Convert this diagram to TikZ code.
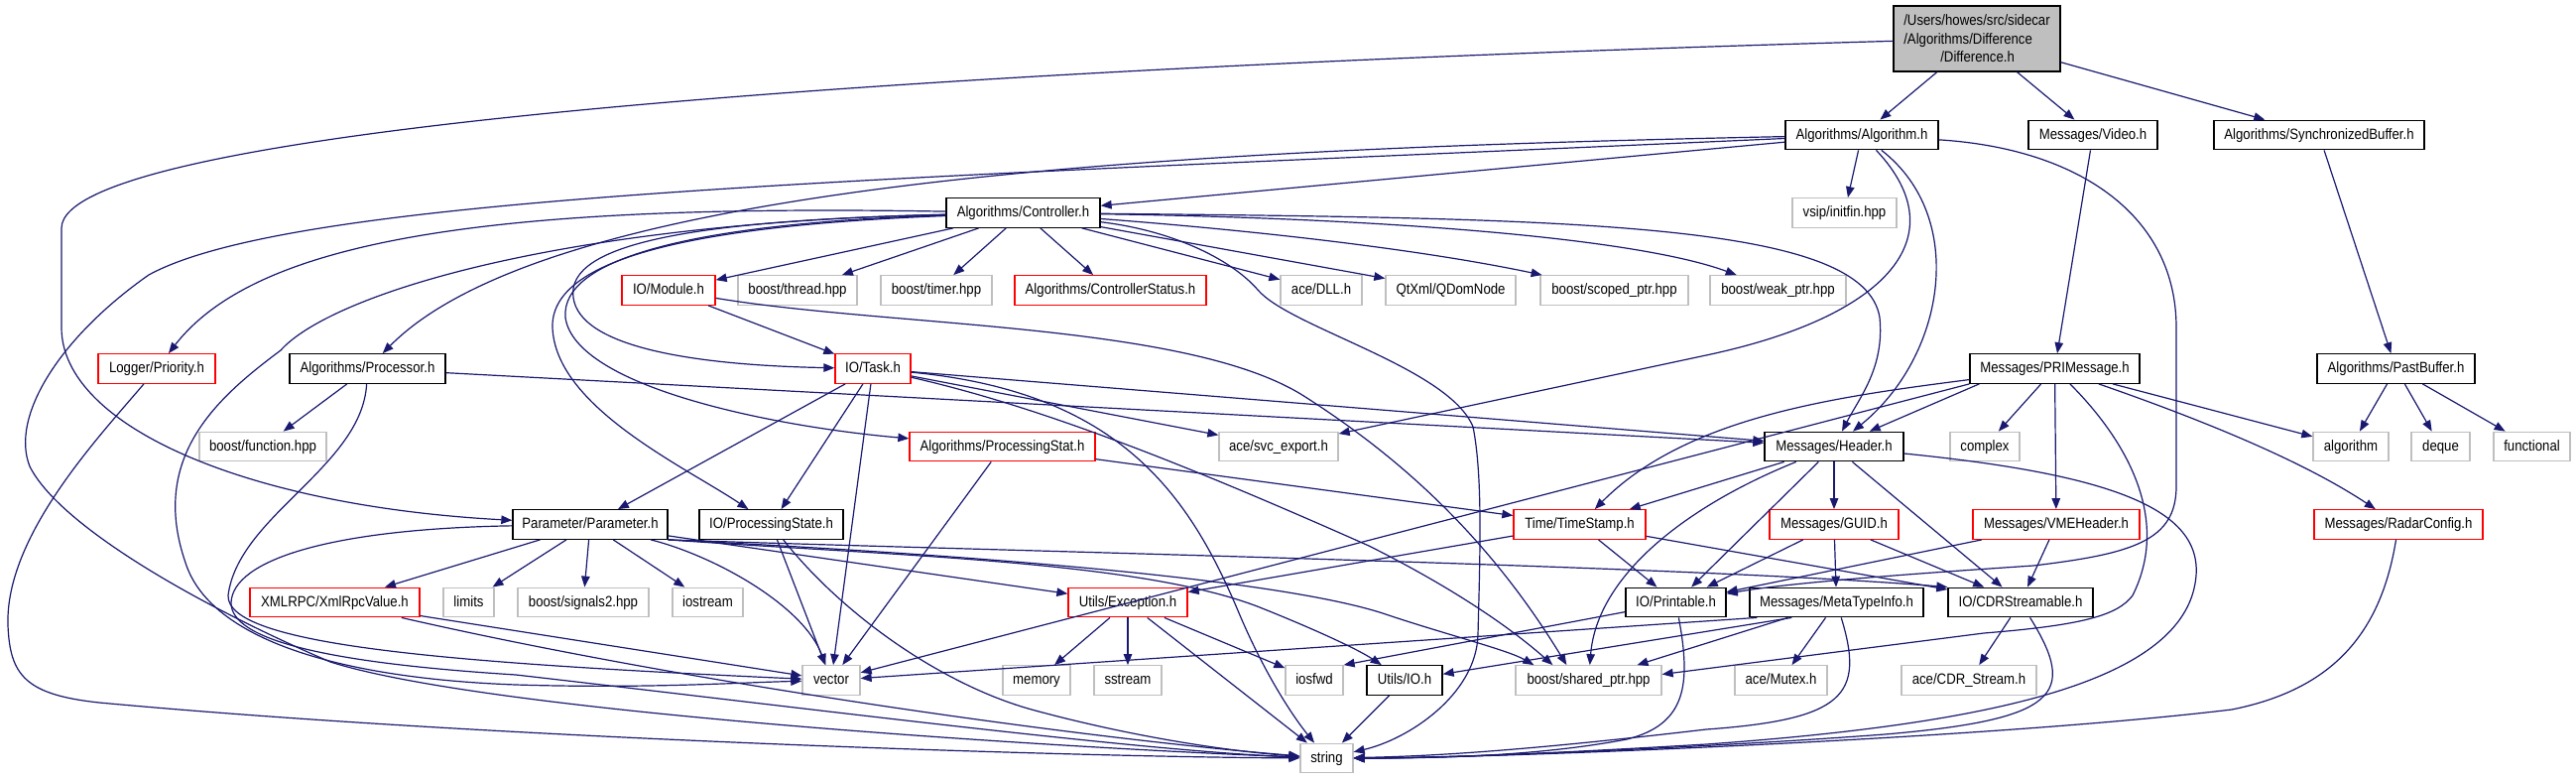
\documentclass[tikz,border=0pt]{standalone}
\usepackage{fontspec}
\newfontfamily\dox[FakeStretch=0.88]{Liberation Sans}
\usetikzlibrary{arrows.meta}
\definecolor{edgec}{HTML}{191970}
\definecolor{gbord}{HTML}{BFBFBF}
\definecolor{mainfill}{HTML}{BFBFBF}
\tikzset{
  nbox/.style={rectangle, inner sep=0pt, minimum height=29.5pt, fill=white, line width=1.3pt, font=\dox\fontsize{15}{18.5}\selectfont},
  blk/.style={nbox, draw=black, text height=11pt, text depth=3pt},
  redb/.style={nbox, draw=red, text height=11pt, text depth=3pt},
  gry/.style={nbox, draw=gbord, text height=11pt, text depth=3pt},
  ed/.style={draw=edgec, line width=1.2pt, -{Triangle[length=11pt,width=8.5pt]}},
}
\begin{document}
\begin{tikzpicture}[x=1pt,y=-1pt]
\useasboundingbox (0,0) rectangle (2597,785);
\fill[white] (0,0) rectangle (2597,785);
% nodes
\node[nbox, draw=black, fill=mainfill, minimum width=168pt, minimum height=66pt, align=left] (main) at (1993,39) {/Users/howes/src/sidecar\\/Algorithms/Difference\\\hspace*{37pt}/Difference.h};
\node[blk, minimum width=154pt] (alg) at (1877,136) {Algorithms/Algorithm.h};
\node[blk, minimum width=130pt] (video) at (2110,136) {Messages/Video.h};
\node[blk, minimum width=212pt] (sync) at (2338,136) {Algorithms/SynchronizedBuffer.h};
\node[blk, minimum width=155pt] (ctl) at (1031.5,214.5) {Algorithms/Controller.h};
\node[gry, minimum width=105pt] (initfin) at (1859.5,214.5) {vsip/initfin.hpp};
\node[redb, minimum width=94pt] (module) at (674,292.5) {IO/Module.h};
\node[gry, minimum width=120pt] (thread) at (804,292.5) {boost/thread.hpp};
\node[gry, minimum width=112pt] (timer) at (944,292.5) {boost/timer.hpp};
\node[redb, minimum width=193pt] (ctlstat) at (1119.5,292.5) {Algorithms/ControllerStatus.h};
\node[gry, minimum width=82pt] (dll) at (1332,292.5) {ace/DLL.h};
\node[gry, minimum width=131pt] (qdom) at (1462.5,292.5) {QtXml/QDomNode};
\node[gry, minimum width=149pt] (scoped) at (1627.5,292.5) {boost/scoped\_ptr.hpp};
\node[gry, minimum width=137pt] (weak) at (1792.5,292.5) {boost/weak\_ptr.hpp};
\node[redb, minimum width=118pt] (logger) at (158,371.5) {Logger/Priority.h};
\node[blk, minimum width=157pt] (proc) at (370.5,371.5) {Algorithms/Processor.h};
\node[redb, minimum width=76pt] (task) at (880,371.5) {IO/Task.h};
\node[blk, minimum width=171pt] (prim) at (2071.5,371.5) {Messages/PRIMessage.h};
\node[blk, minimum width=159pt] (past) at (2415.5,371.5) {Algorithms/PastBuffer.h};
\node[gry, minimum width=128pt] (func) at (265,450) {boost/function.hpp};
\node[redb, minimum width=187pt] (pstat) at (1010.5,450) {Algorithms/ProcessingStat.h};
\node[gry, minimum width=120pt] (svc) at (1289,450) {ace/svc\_export.h};
\node[blk, minimum width=140pt] (hdr) at (1849,450) {Messages/Header.h};
\node[gry, minimum width=70pt] (complex) at (2001,450) {complex};
\node[gry, minimum width=76pt] (algo) at (2370,450) {algorithm};
\node[gry, minimum width=59pt] (deque) at (2460.5,450) {deque};
\node[gry, minimum width=77pt] (functional) at (2552.5,450) {functional};
\node[blk, minimum width=156pt] (param) at (595,528.5) {Parameter/Parameter.h};
\node[blk, minimum width=145pt] (pstate) at (777.5,528.5) {IO/ProcessingState.h};
\node[redb, minimum width=133pt] (tstamp) at (1592.5,528.5) {Time/TimeStamp.h};
\node[redb, minimum width=130pt] (guid) at (1849,528.5) {Messages/GUID.h};
\node[redb, minimum width=168pt] (vme) at (2073,528.5) {Messages/VMEHeader.h};
\node[redb, minimum width=170pt] (radar) at (2418,528.5) {Messages/RadarConfig.h};
\node[redb, minimum width=171pt] (xml) at (337.5,607) {XMLRPC/XmlRpcValue.h};
\node[gry, minimum width=51pt] (limits) at (472.5,607) {limits};
\node[gry, minimum width=132pt] (sig) at (588,607) {boost/signals2.hpp};
\node[gry, minimum width=71pt] (iostream) at (713.5,607) {iostream};
\node[redb, minimum width=120pt] (exc) at (1137,607) {Utils/Exception.h};
\node[blk, minimum width=101pt] (printable) at (1689.5,607) {IO/Printable.h};
\node[blk, minimum width=175pt] (meta) at (1851.5,607) {Messages/MetaTypeInfo.h};
\node[blk, minimum width=146pt] (cdrs) at (2037,607) {IO/CDRStreamable.h};
\node[gry, minimum width=58pt] (vector) at (838,685.5) {vector};
\node[gry, minimum width=68pt] (memory) at (1045,685.5) {memory};
\node[gry, minimum width=68pt] (sstream) at (1137,685.5) {sstream};
\node[gry, minimum width=58pt] (iosfwd) at (1325,685.5) {iosfwd};
\node[blk, minimum width=76pt] (uio) at (1416,685.5) {Utils/IO.h};
\node[gry, minimum width=147pt] (shared) at (1601.5,685.5) {boost/shared\_ptr.hpp};
\node[gry, minimum width=93pt] (mutex) at (1795.5,685.5) {ace/Mutex.h};
\node[gry, minimum width=136pt] (cdrstream) at (1985,685.5) {ace/CDR\_Stream.h};
\node[gry, minimum width=53pt] (string) at (1337.5,764) {string};
% edges: main
\draw[ed] (main) -- (alg);
\draw[ed] (main) -- (video);
\draw[ed] (main) -- (sync);
\draw[ed] (main) .. controls (900,70) and (62,130) .. (62,230) -- (62,330) .. controls (62,430) and (250,510) .. (param);
% Algorithm.h
\draw[ed] (alg) -- (ctl);
\draw[ed] (alg) -- (initfin);
\draw[ed] (alg) .. controls (1200,150) and (560,180) .. (proc);
\draw[ed] (alg) .. controls (900,180) and (300,195) .. (150,277) .. controls (60,340) and (10,420) .. (30,470) .. controls (60,530) and (200,610) .. (333,667) .. controls (500,720) and (1100,755) .. (string);
\draw[ed] (alg) .. controls (1985,220) and (1960,360) .. (hdr);
\draw[ed] (alg) .. controls (1975,240) and (1900,320) .. (1720,358) -- (svc);
\draw[ed] (alg) .. controls (2100,150) and (2194,220) .. (2194,330) -- (2194,490) .. controls (2194,545) and (2150,558) .. (2050,570) .. controls (1900,580) and (1800,588) .. (printable);
% Video, SynchronizedBuffer
\draw[ed] (video) -- (prim);
\draw[ed] (sync) -- (past);
% Controller.h
\draw[ed] (ctl) -- (module);
\draw[ed] (ctl) -- (thread);
\draw[ed] (ctl) -- (timer);
\draw[ed] (ctl) -- (ctlstat);
\draw[ed] (ctl) -- (dll);
\draw[ed] (ctl) -- (qdom);
\draw[ed] (ctl) .. controls (1300,235) and (1450,255) .. (scoped);
\draw[ed] (ctl) .. controls (1400,220) and (1650,240) .. (weak);
\draw[ed] (ctl) .. controls (1600,220) and (1880,225) .. (1895,320) .. controls (1900,370) and (1875,400) .. (hdr);
\draw[ed] (ctl) .. controls (500,205) and (260,240) .. (logger);
\draw[ed] (ctl) .. controls (550,225) and (330,300) .. (283,353) .. controls (220,400) and (150,460) .. (187,567) .. controls (210,640) and (330,683) .. (520,690) .. controls (650,694) and (740,688) .. (vector);
\draw[ed] (ctl) .. controls (680,228) and (555,265) .. (557,330) .. controls (560,410) and (690,470) .. (pstate);
\draw[ed] (ctl) .. controls (700,225) and (565,260) .. (570,320) .. controls (580,390) and (780,430) .. (pstat);
\draw[ed] (ctl) .. controls (700,222) and (570,245) .. (578,300) .. controls (585,350) and (700,368) .. (task);
\draw[ed] (ctl) .. controls (1180,232) and (1240,260) .. (1268,292) .. controls (1300,330) and (1460,370) .. (1485,430) .. controls (1495,480) and (1492,560) .. (1490,640) .. controls (1488,700) and (1420,745) .. (string);
% Module
\draw[ed] (module) -- (task);
\draw[ed] (module) .. controls (900,330) and (1200,325) .. (1316,400) .. controls (1410,460) and (1500,540) .. ([xshift=52pt]shared.north west);
% Task
\draw[ed] (task) -- (param);
\draw[ed] (task) -- (pstate);
\draw[ed] (task) -- (vector);
\draw[ed] (task) -- (hdr);
\draw[ed] (task) -- (svc);
\draw[ed] (task) .. controls (1050,410) and (1200,470) .. (1380,550) .. controls (1460,590) and (1520,630) .. ([xshift=38pt]shared.north west);
\draw[ed] (task) .. controls (1130,395) and (1200,500) .. (1250,620) .. controls (1280,690) and (1310,730) .. (string);
% Processor
\draw[ed] (proc) -- (func);
\draw[ed] (proc) -- (hdr);
\draw[ed] (proc) .. controls (365,470) and (240,520) .. (230,600) .. controls (228,650) and (450,668) .. (vector);
% Logger
\draw[ed] (logger) .. controls (100,440) and (5,540) .. (8,630) .. controls (10,680) and (25,700) .. (100,708) .. controls (500,745) and (1100,763) .. (string);
% XmlRpcValue
\draw[ed] (xml) -- (vector);
\draw[ed] (xml) .. controls (700,690) and (1100,745) .. (string);
% Parameter
\draw[ed] (param) -- (xml);
\draw[ed] (param) -- (limits);
\draw[ed] (param) -- (sig);
\draw[ed] (param) -- (iostream);
\draw[ed] (param) .. controls (720,560) and (810,610) .. (vector);
\draw[ed] (param) -- (exc);
\draw[ed] (param.south east) .. controls (900,560) and (1150,565) .. (1270,612) .. controls (1330,636) and (1370,655) .. (uio);
\draw[ed] (param.south east) .. controls (1000,560) and (1300,585) .. (1400,620) .. controls (1460,640) and (1520,655) .. ([xshift=19pt]shared.north west);
\draw[ed] (param.south east) .. controls (1000,555) and (1700,570) .. (cdrs.north west);
\draw[ed] (param) .. controls (330,533) and (235,565) .. (233,607) .. controls (232,645) and (330,668) .. (520,680) .. controls (800,712) and (1150,757) .. (string);
% ProcessingState
\draw[ed] (pstate) -- (vector);
\draw[ed] (pstate) .. controls (850,620) and (950,690) .. (1040,715) .. controls (1150,745) and (1250,758) .. (string);
% ProcessingStat
\draw[ed] (pstat) -- (vector);
\draw[ed] (pstat) -- (tstamp);
% Header
\draw[ed] (hdr) -- (guid);
\draw[ed] (hdr) -- (cdrs);
\draw[ed] (hdr) -- (printable);
\draw[ed] (hdr) -- (tstamp);
\draw[ed] (hdr) .. controls (1700,510) and (1610,580) .. (shared);
\draw[ed] (hdr) .. controls (2150,480) and (2235,520) .. (2210,600) .. controls (2180,690) and (2000,730) .. (1720,750) .. controls (1550,760) and (1450,764) .. (string);
% TimeStamp
\draw[ed] (tstamp) -- (exc);
\draw[ed] (tstamp) -- (printable);
\draw[ed] (tstamp) -- (cdrs);
% GUID
\draw[ed] (guid) -- (printable);
\draw[ed] (guid) -- (meta);
\draw[ed] (guid) -- (cdrs);
% VMEHeader
\draw[ed] (vme) -- (printable);
\draw[ed] (vme) -- (cdrs);
% RadarConfig
\draw[ed] (radar) .. controls (2400,640) and (2350,695) .. (2250,715) .. controls (2000,745) and (1500,764) .. (string);
% MetaTypeInfo
\draw[ed] ([xshift=8pt]meta.south west) -- (vector);
\draw[ed] ([xshift=43pt]meta.south west) -- (uio);
\draw[ed] (meta) -- (shared);
\draw[ed] (meta) -- (mutex);
\draw[ed] (meta) .. controls (1880,700) and (1860,725) .. (1720,735) .. controls (1550,755) and (1450,762) .. (string);
% CDRStreamable
\draw[ed] (cdrs) -- (cdrstream);
\draw[ed] (cdrs) .. controls (2095,700) and (2075,725) .. (1900,740) .. controls (1700,755) and (1450,764) .. (string);
% Printable
\draw[ed] (printable) -- (iosfwd.north east);
\draw[ed] (printable) .. controls (1705,690) and (1700,730) .. (1640,745) .. controls (1550,762) and (1450,764) .. (string);
% Utils/IO
\draw[ed] (uio) -- (string);
% Exception
\draw[ed] (exc) -- (memory);
\draw[ed] (exc) -- (sstream);
\draw[ed] (exc) -- (iosfwd);
\draw[ed] (exc) -- (string);
% PRIMessage
\draw[ed] ([xshift=10pt]prim.south west) -- (hdr);
\draw[ed] (prim) .. controls (1850,400) and (1700,420) .. (tstamp);
\draw[ed] (prim.south west) -- (vector);
\draw[ed] (prim) -- (complex);
\draw[ed] (prim) -- (vme);
\draw[ed] (prim) -- (algo);
\draw[ed] (prim) .. controls (2240,430) and (2330,470) .. (radar);
\draw[ed] (prim) .. controls (2140,440) and (2190,520) .. (2150,600) .. controls (2135,620) and (2100,630) .. (2000,638) -- ([yshift=6pt]shared.east);
% PastBuffer
\draw[ed] (past) -- (algo);
\draw[ed] (past) -- (deque);
\draw[ed] (past) -- (functional);
\end{tikzpicture}
\end{document}
